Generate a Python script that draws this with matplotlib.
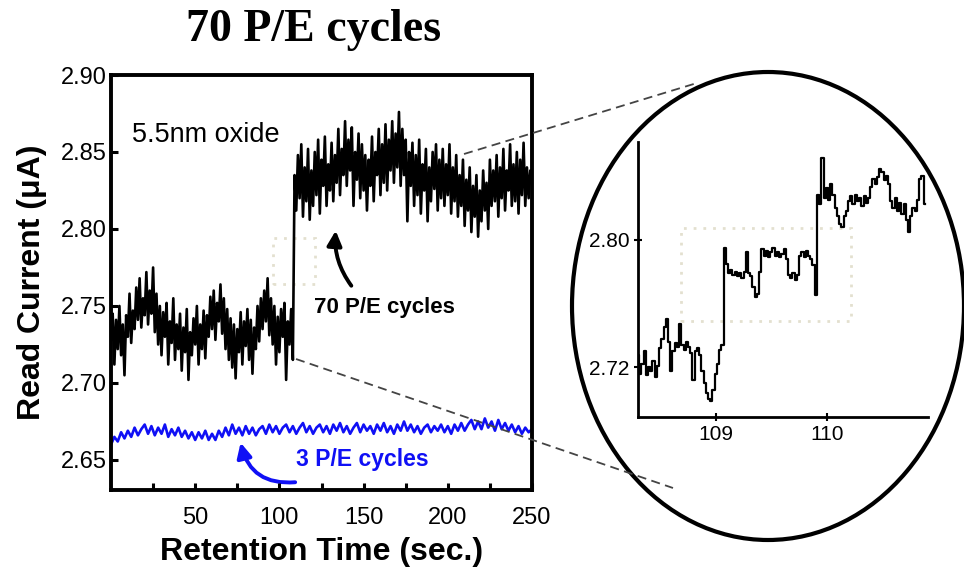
import numpy as np
import matplotlib
matplotlib.use("Agg")
import matplotlib.pyplot as plt
from matplotlib.patches import Ellipse, Rectangle, FancyArrowPatch

plt.rcParams['font.family'] = ['Liberation Sans', 'DejaVu Sans']

# read current after 70 P/E cycles, one sample per second (nA)
cycles70_nA = [
    2728, 2745, 2712, 2741, 2722, 2750, 2718, 2738, 2705, 2744,
    2730, 2758, 2726, 2747, 2735, 2762, 2741, 2768, 2736, 2755,
    2744, 2772, 2738, 2760, 2745, 2775, 2733, 2758, 2725, 2750,
    2718, 2746, 2730, 2752, 2712, 2740, 2726, 2755, 2715, 2738,
    2722, 2745, 2708, 2736, 2720, 2748, 2702, 2733, 2718, 2742,
    2725, 2750, 2712, 2738, 2722, 2747, 2716, 2744, 2730, 2756,
    2735, 2760, 2728, 2752, 2740, 2764, 2732, 2755, 2722, 2748,
    2715, 2742, 2710, 2738, 2703, 2735, 2720, 2746, 2712, 2740,
    2724, 2748, 2715, 2741, 2706, 2736, 2722, 2750, 2727, 2755,
    2735, 2760, 2740, 2768, 2731, 2755, 2725, 2750, 2712, 2743,
    2720, 2748, 2730, 2752, 2702, 2740, 2725, 2748, 2715,
    2835, 2812, 2848, 2820, 2855, 2808, 2840, 2818, 2852, 2806,
    2838, 2815, 2850, 2822, 2858, 2810, 2845, 2828, 2860, 2815,
    2842, 2825, 2856, 2818, 2848, 2830, 2865, 2822, 2852, 2835,
    2870, 2828, 2858, 2838, 2866, 2815, 2850, 2832, 2862, 2820,
    2855, 2825, 2848, 2812, 2845, 2828, 2860, 2818, 2850, 2835,
    2865, 2822, 2855, 2830, 2868, 2825, 2858, 2838, 2870, 2830,
    2862, 2840, 2876, 2828, 2865, 2835, 2858, 2805, 2850, 2828,
    2856, 2815, 2848, 2822, 2858, 2810, 2842, 2825, 2852, 2805,
    2840, 2818, 2850, 2826, 2855, 2812, 2845, 2820, 2852, 2815,
    2842, 2822, 2855, 2810, 2840, 2818, 2848, 2808, 2835, 2815,
    2845, 2802, 2832, 2812, 2840, 2798, 2828, 2808, 2835, 2795,
    2825, 2805, 2838, 2812, 2830, 2800, 2845, 2815, 2838, 2818,
    2848, 2808, 2840, 2820, 2852, 2812, 2838, 2825, 2855, 2815,
    2842, 2818, 2850, 2810, 2845, 2822, 2856, 2815, 2840, 2820,
    2838, 2830,
]

# read current after 3 P/E cycles, one sample every 2 s (nA)
cycles3_nA = [
    2660, 2665, 2662, 2668, 2664, 2669, 2665, 2671, 2666, 2670,
    2673, 2667, 2672, 2666, 2671, 2667, 2673, 2665, 2670, 2666,
    2671, 2665, 2669, 2664, 2668, 2663, 2668, 2664, 2669, 2663,
    2667, 2663, 2669, 2665, 2671, 2666, 2673, 2667, 2671, 2666,
    2672, 2667, 2671, 2666, 2670, 2672, 2667, 2673, 2668, 2672,
    2667, 2671, 2673, 2668, 2672, 2667, 2671, 2674, 2668, 2672,
    2667, 2671, 2673, 2668, 2672, 2667, 2673, 2669, 2674, 2668,
    2672, 2667, 2671, 2674, 2668, 2673, 2669, 2672, 2667, 2673,
    2669, 2674, 2668, 2672, 2667, 2673, 2669, 2675, 2669, 2673,
    2668, 2672, 2667, 2671, 2673, 2668, 2672, 2669, 2673, 2668,
    2672, 2667, 2673, 2669, 2674, 2669, 2673, 2676, 2670, 2675,
    2670, 2677, 2671, 2675, 2669, 2676, 2670, 2674, 2669, 2673,
    2668, 2672, 2667, 2671, 2668, 2670,
]

# zoom around the step, one sample every 0.02 s starting at 108.30 s (nA)
zoom_nA = [
    2728, 2716, 2722, 2730, 2715, 2720, 2718, 2724, 2714, 2721,
    2732, 2738, 2745, 2750, 2736, 2718, 2730, 2735, 2733, 2747,
    2734, 2731, 2736, 2733, 2729, 2712, 2730, 2732, 2728, 2718,
    2710, 2704, 2700, 2699, 2706, 2716, 2722, 2731, 2734, 2795,
    2785, 2779, 2781, 2778, 2780, 2777, 2779, 2776, 2780, 2792,
    2779, 2777, 2770, 2764, 2766, 2780, 2794, 2790, 2793, 2789,
    2792, 2795, 2790, 2792, 2789, 2791, 2794, 2788, 2778, 2776,
    2779, 2775, 2778, 2790, 2792, 2789, 2793, 2790, 2788, 2784,
    2765, 2828, 2822, 2851, 2826, 2832, 2825, 2835, 2828, 2820,
    2815, 2810, 2808, 2815, 2818, 2824, 2827, 2822, 2828, 2824,
    2826, 2821, 2827, 2823, 2826, 2833, 2838, 2835, 2839, 2844,
    2842, 2837, 2840, 2835, 2824, 2820, 2826, 2818, 2823, 2816,
    2822, 2812, 2805, 2815, 2820, 2818, 2825, 2838, 2840, 2822,
]

t70 = np.arange(len(cycles70_nA))
t3 = np.arange(len(cycles3_nA)) * 2
tz = 108.30 + 0.02 * np.arange(len(zoom_nA))

BLUE = '#1010f5'

fig = plt.figure(figsize=(9.64, 5.81), dpi=100)

# ---- main panel
ax = fig.add_axes([111/964, 1 - 490/581, 421/964, 415/581])
ax.plot(t70, np.array(cycles70_nA) / 1000, color='black', lw=1.9)
ax.plot(t3, np.array(cycles3_nA) / 1000, color=BLUE, lw=1.9)
ax.set_xlim(0, 250)
ax.set_ylim(2.6305, 2.90)
ax.set_xticks([50, 100, 150, 200, 250])
ax.set_xticks([25, 75, 125, 175, 225], minor=True)
ax.set_yticks([2.65, 2.70, 2.75, 2.80, 2.85, 2.90])
ax.set_yticklabels(['2.65', '2.70', '2.75', '2.80', '2.85', '2.90'])
for s in ax.spines.values():
    s.set_linewidth(2.8)
ax.tick_params(which='both', direction='in', length=5, width=2.2, labelsize=17)
ax.tick_params(axis='x', pad=12)
ax.tick_params(axis='y', pad=3)
ax.set_xlabel('Retention Time (sec.)', fontsize=23, fontweight='bold', labelpad=6)
ax.set_ylabel('Read Current (\u03bcA)', fontsize=23, fontweight='bold', labelpad=10)

ax.add_patch(Rectangle((96, 2.764), 25, 0.030, fill=False, ec='#e3e0cf',
                       lw=2, ls=(0, (1, 2.5))))
ax.text(12.5, 2.861, '5.5nm oxide', fontsize=19.5, va='center')
ax.text(120.5, 2.749, '70 P/E cycles', fontsize=16, fontweight='bold', va='center')
ax.text(110, 2.650, '3 P/E cycles', fontsize=16.5, fontweight='bold', va='center',
        color=BLUE)
ax.add_patch(FancyArrowPatch((143.7, 2.7617), (133.6, 2.8007),
                             connectionstyle='arc3,rad=-0.2', arrowstyle='-|>',
                             mutation_scale=22, lw=2.8, color='black'))
ax.add_patch(FancyArrowPatch((111.0, 2.6357), (76.6, 2.663),
                             connectionstyle='arc3,rad=-0.45', arrowstyle='-|>',
                             mutation_scale=22, lw=2.8, color=BLUE))

fig.text(314/964, 1 - 30/581, '70 P/E cycles', fontsize=33, fontweight='bold',
         family='Liberation Serif', ha='center', va='center')

# ---- zoomed inset
axi = fig.add_axes([638/964, 1 - 417/581, 290/964, 275/581])
axi.plot(tz, np.array(zoom_nA) / 1000, color='black', lw=1.6, drawstyle='steps-mid')
axi.set_xlim(108.30, 110.91)
axi.set_ylim(2.689, 2.861)
axi.set_xticks([109, 110])
axi.set_yticks([2.72, 2.80])
axi.set_yticklabels(['2.72', '2.80'])
axi.spines['top'].set_visible(False)
axi.spines['right'].set_visible(False)
for s in ('left', 'bottom'):
    axi.spines[s].set_linewidth(2)
axi.tick_params(direction='inout', length=6, width=1.5, labelsize=15, pad=3)
axi.add_patch(Rectangle((108.69, 2.749), 1.53, 0.058, fill=False, ec='#e3e0cf',
                        lw=2, ls=(0, (1, 2.5))))

# ---- lens outline and connector lines (pixel coordinates)
ov = fig.add_axes([0, 0, 1, 1], zorder=5)
ov.set_xlim(0, 964)
ov.set_ylim(581, 0)
ov.axis('off')
ov.patch.set_visible(False)
ov.add_patch(Ellipse((768, 306), 392, 468, fill=False, ec='black', lw=3))
ov.plot([464, 697], [154, 83], color='#444444', lw=1.3, ls=(0, (5, 3)))
ov.plot([296, 673], [359, 488], color='#444444', lw=1.3, ls=(0, (5, 3)))

fig.savefig('out.png', dpi=100)
